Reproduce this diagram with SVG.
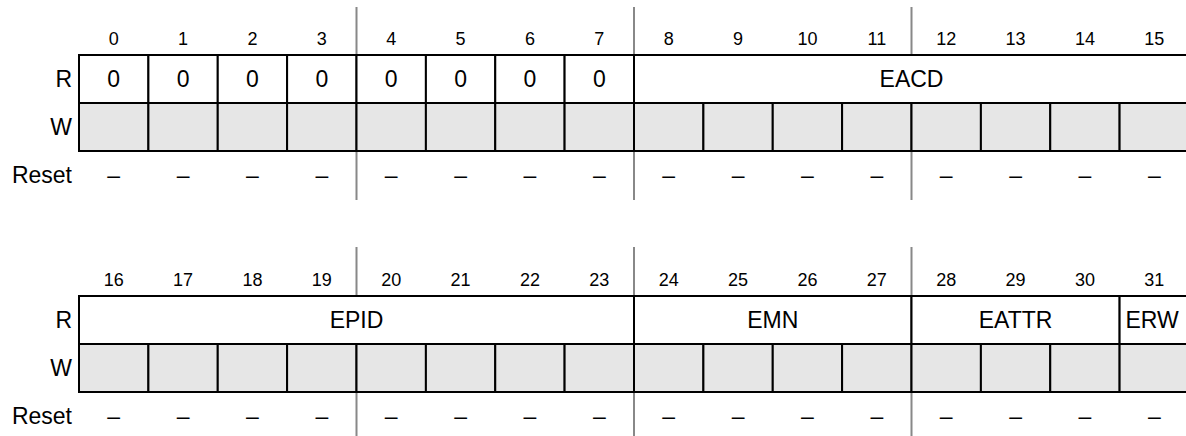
<svg xmlns="http://www.w3.org/2000/svg" width="1186" height="436" viewBox="0 0 1186 436">
<style>
text{font-family:"Liberation Sans",Arial,sans-serif;fill:#000}
.num{font-size:18px;text-anchor:middle}
.val{font-size:23px;text-anchor:middle}
.lbl{font-size:23px;text-anchor:end}
.cell{fill:#fff;stroke:#000;stroke-width:2}
.wcell{fill:#e6e6e6;stroke:#000;stroke-width:2}
.guide{stroke:#888;stroke-width:2;fill:none}
</style>
<g id="guides">
<path class="guide" d="M356.5,7V55M634,7V55M911.5,7V55M356.5,151V200M634,151V200M911.5,151V200"/>
<path class="guide" d="M356.5,247V296M634,247V296M911.5,247V296M356.5,392V436M634,392V436M911.5,392V436"/>
</g>
<g id="reg0">
<g id="bits0-15">
<text class="num" x="113.7" y="45">0</text><text class="num" x="183.1" y="45">1</text><text class="num" x="252.4" y="45">2</text><text class="num" x="321.8" y="45">3</text><text class="num" x="391.2" y="45">4</text><text class="num" x="460.6" y="45">5</text><text class="num" x="530" y="45">6</text><text class="num" x="599.3" y="45">7</text><text class="num" x="668.7" y="45">8</text><text class="num" x="738.1" y="45">9</text><text class="num" x="807.4" y="45">10</text><text class="num" x="876.8" y="45">11</text><text class="num" x="946.2" y="45">12</text><text class="num" x="1015.6" y="45">13</text><text class="num" x="1085" y="45">14</text><text class="num" x="1154.3" y="45">15</text>
</g>
<g id="labels0">
<text class="lbl" x="72" y="87">R</text><text class="lbl" x="72" y="135">W</text><text class="lbl" x="72" y="183">Reset</text>
</g>
<g id="read0">
<rect class="cell" x="79" y="55" width="69.4" height="48"/><rect class="cell" x="148.4" y="55" width="69.35" height="48"/><rect class="cell" x="217.75" y="55" width="69.35" height="48"/><rect class="cell" x="287.1" y="55" width="69.4" height="48"/><rect class="cell" x="356.5" y="55" width="69.4" height="48"/><rect class="cell" x="425.9" y="55" width="69.35" height="48"/><rect class="cell" x="495.25" y="55" width="69.35" height="48"/><rect class="cell" x="564.6" y="55" width="69.4" height="48"/>
<rect id="EACD" class="cell" x="634" y="55" width="560" height="48"/>
<text class="val" x="113.7" y="87">0</text><text class="val" x="183.1" y="87">0</text><text class="val" x="252.4" y="87">0</text><text class="val" x="321.8" y="87">0</text><text class="val" x="391.2" y="87">0</text><text class="val" x="460.6" y="87">0</text><text class="val" x="530" y="87">0</text><text class="val" x="599.3" y="87">0</text>
<text class="val" x="911.5" y="87">EACD</text>
</g>
<g id="write0">
<rect class="wcell" x="79" y="103" width="69.4" height="48"/><rect class="wcell" x="148.4" y="103" width="69.35" height="48"/><rect class="wcell" x="217.75" y="103" width="69.35" height="48"/><rect class="wcell" x="287.1" y="103" width="69.4" height="48"/><rect class="wcell" x="356.5" y="103" width="69.4" height="48"/><rect class="wcell" x="425.9" y="103" width="69.35" height="48"/><rect class="wcell" x="495.25" y="103" width="69.35" height="48"/><rect class="wcell" x="564.6" y="103" width="69.4" height="48"/><rect class="wcell" x="634" y="103" width="69.4" height="48"/><rect class="wcell" x="703.4" y="103" width="69.35" height="48"/><rect class="wcell" x="772.75" y="103" width="69.35" height="48"/><rect class="wcell" x="842.1" y="103" width="69.4" height="48"/><rect class="wcell" x="911.5" y="103" width="69.4" height="48"/><rect class="wcell" x="980.9" y="103" width="69.35" height="48"/><rect class="wcell" x="1050.25" y="103" width="69.35" height="48"/><rect class="wcell" x="1119.6" y="103" width="74" height="48"/>
</g>
<g id="reset0">
<text class="val" x="113.7" y="183">–</text><text class="val" x="183.1" y="183">–</text><text class="val" x="252.4" y="183">–</text><text class="val" x="321.8" y="183">–</text><text class="val" x="391.2" y="183">–</text><text class="val" x="460.6" y="183">–</text><text class="val" x="530" y="183">–</text><text class="val" x="599.3" y="183">–</text><text class="val" x="668.7" y="183">–</text><text class="val" x="738.1" y="183">–</text><text class="val" x="807.4" y="183">–</text><text class="val" x="876.8" y="183">–</text><text class="val" x="946.2" y="183">–</text><text class="val" x="1015.6" y="183">–</text><text class="val" x="1085" y="183">–</text><text class="val" x="1154.3" y="183">–</text>
</g>
</g>
<g id="reg1" transform="translate(0,241)">
<g id="bits16-31">
<text class="num" x="113.7" y="45">16</text><text class="num" x="183.1" y="45">17</text><text class="num" x="252.4" y="45">18</text><text class="num" x="321.8" y="45">19</text><text class="num" x="391.2" y="45">20</text><text class="num" x="460.6" y="45">21</text><text class="num" x="530" y="45">22</text><text class="num" x="599.3" y="45">23</text><text class="num" x="668.7" y="45">24</text><text class="num" x="738.1" y="45">25</text><text class="num" x="807.4" y="45">26</text><text class="num" x="876.8" y="45">27</text><text class="num" x="946.2" y="45">28</text><text class="num" x="1015.6" y="45">29</text><text class="num" x="1085" y="45">30</text><text class="num" x="1154.3" y="45">31</text>
</g>
<g id="labels1">
<text class="lbl" x="72" y="87">R</text><text class="lbl" x="72" y="135">W</text><text class="lbl" x="72" y="183">Reset</text>
</g>
<g id="read1">
<rect id="EPID" class="cell" x="79" y="55" width="555" height="48"/>
<rect id="EMN" class="cell" x="634" y="55" width="277.5" height="48"/>
<rect id="EATTR" class="cell" x="911.5" y="55" width="208.1" height="48"/>
<rect id="ERW" class="cell" x="1119.6" y="55" width="74" height="48"/>
<text class="val" x="356.5" y="87">EPID</text>
<text class="val" x="772.75" y="87">EMN</text>
<text class="val" x="1015.6" y="87">EATTR</text>
<text class="val" x="1152" y="87">ERW</text>
</g>
<g id="write1">
<rect class="wcell" x="79" y="103" width="69.4" height="48"/><rect class="wcell" x="148.4" y="103" width="69.35" height="48"/><rect class="wcell" x="217.75" y="103" width="69.35" height="48"/><rect class="wcell" x="287.1" y="103" width="69.4" height="48"/><rect class="wcell" x="356.5" y="103" width="69.4" height="48"/><rect class="wcell" x="425.9" y="103" width="69.35" height="48"/><rect class="wcell" x="495.25" y="103" width="69.35" height="48"/><rect class="wcell" x="564.6" y="103" width="69.4" height="48"/><rect class="wcell" x="634" y="103" width="69.4" height="48"/><rect class="wcell" x="703.4" y="103" width="69.35" height="48"/><rect class="wcell" x="772.75" y="103" width="69.35" height="48"/><rect class="wcell" x="842.1" y="103" width="69.4" height="48"/><rect class="wcell" x="911.5" y="103" width="69.4" height="48"/><rect class="wcell" x="980.9" y="103" width="69.35" height="48"/><rect class="wcell" x="1050.25" y="103" width="69.35" height="48"/><rect class="wcell" x="1119.6" y="103" width="74" height="48"/>
</g>
<g id="reset1">
<text class="val" x="113.7" y="183">–</text><text class="val" x="183.1" y="183">–</text><text class="val" x="252.4" y="183">–</text><text class="val" x="321.8" y="183">–</text><text class="val" x="391.2" y="183">–</text><text class="val" x="460.6" y="183">–</text><text class="val" x="530" y="183">–</text><text class="val" x="599.3" y="183">–</text><text class="val" x="668.7" y="183">–</text><text class="val" x="738.1" y="183">–</text><text class="val" x="807.4" y="183">–</text><text class="val" x="876.8" y="183">–</text><text class="val" x="946.2" y="183">–</text><text class="val" x="1015.6" y="183">–</text><text class="val" x="1085" y="183">–</text><text class="val" x="1154.3" y="183">–</text>
</g>
</g>
</svg>
